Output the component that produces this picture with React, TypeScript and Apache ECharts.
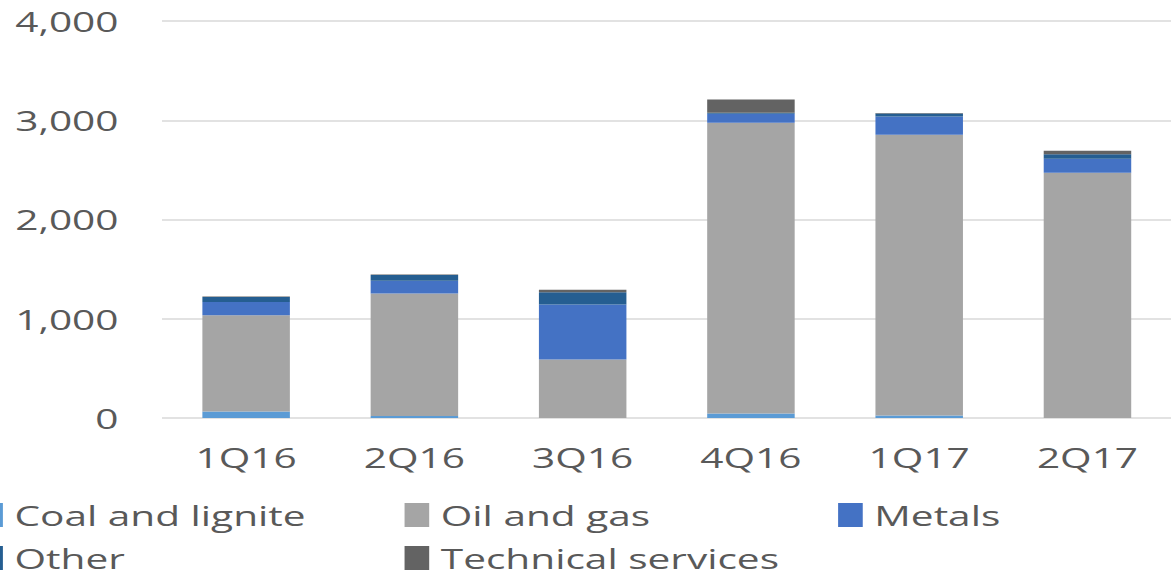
import React, { useEffect, useRef } from "react";
import * as echarts from "echarts";

const categories = ["1Q16", "2Q16", "3Q16", "4Q16", "1Q17", "2Q17"];
const seriesNames = ["Coal and lignite", "Oil and gas", "Metals", "Other", "Technical services"];
const coal = [65, 20, 0, 45, 25, 0];
const oil = [970, 1235, 590, 2930, 2830, 2470];
const metals = [135, 127, 553, 90, 184, 142];
const other = [50, 60, 125, 10, 30, 46];
const tech = [5, 5, 25, 133, 5, 34];
const yTicks = [0, 1000, 2000, 3000, 4000];

const colors = ["#5B9BD5", "#A5A5A5", "#4472C4", "#255E91", "#636363"];
const S = 1.45;
const W = 1171;
const H = 576;
const FONT = "'Open Sans', sans-serif";
const TXT = "#595959";

export default function App() {
  const ref = useRef<HTMLDivElement>(null);
  useEffect(() => {
    if (!ref.current) return;
    const chart = echarts.init(ref.current, null, { renderer: "svg" });
    const values = [coal, oil, metals, other, tech];
    const legendPos = [
      { left: -15, top: 500 },
      { left: 279, top: 500 },
      { left: 578, top: 500 },
      { left: -15, top: 543 },
      { left: 279, top: 543 },
    ];
    chart.setOption({
      animation: false,
      textStyle: { fontFamily: FONT },
      grid: { left: 162 / S, width: 1012 / S, top: 21, height: 397, containLabel: false },
      xAxis: {
        type: "category",
        data: categories,
        axisLine: { show: false },
        axisTick: { show: false },
        axisLabel: { color: TXT, fontSize: 28, fontFamily: FONT, margin: 25 },
      },
      yAxis: {
        type: "value",
        min: yTicks[0],
        max: yTicks[yTicks.length - 1],
        interval: 1000,
        axisLine: { show: false },
        axisTick: { show: false },
        splitLine: { lineStyle: { color: "#D9D9D9", width: 1.5 } },
        axisLabel: {
          color: TXT,
          fontSize: 28,
          fontFamily: FONT,
          margin: 30,
          formatter: (v: number) => v.toLocaleString("en-US"),
        },
      },
      legend: seriesNames.map((n, i) => ({
        data: [n],
        left: legendPos[i].left,
        top: legendPos[i].top,
        padding: 0,
        orient: "horizontal",
        itemWidth: 17,
        itemHeight: 24,
        icon: "rect",
        selectedMode: false,
        textStyle: { color: TXT, fontSize: 28, fontFamily: FONT, padding: [0, 0, 0, 3], lineHeight: 30 },
      })),
      series: seriesNames.map((n, i) => ({
        name: n,
        type: "bar",
        stack: "total",
        data: values[i],
        barWidth: "52%",
        itemStyle: { color: colors[i] },
      })),
    });
    return () => chart.dispose();
  }, []);
  return (
    <div style={{ position: "fixed", left: 0, top: 0, width: W, height: H, overflow: "hidden", background: "#fff" }}>
      <div
        ref={ref}
        style={{ width: W / S, height: H, transform: `scaleX(${S})`, transformOrigin: "0 0" }}
      />
    </div>
  );
}
